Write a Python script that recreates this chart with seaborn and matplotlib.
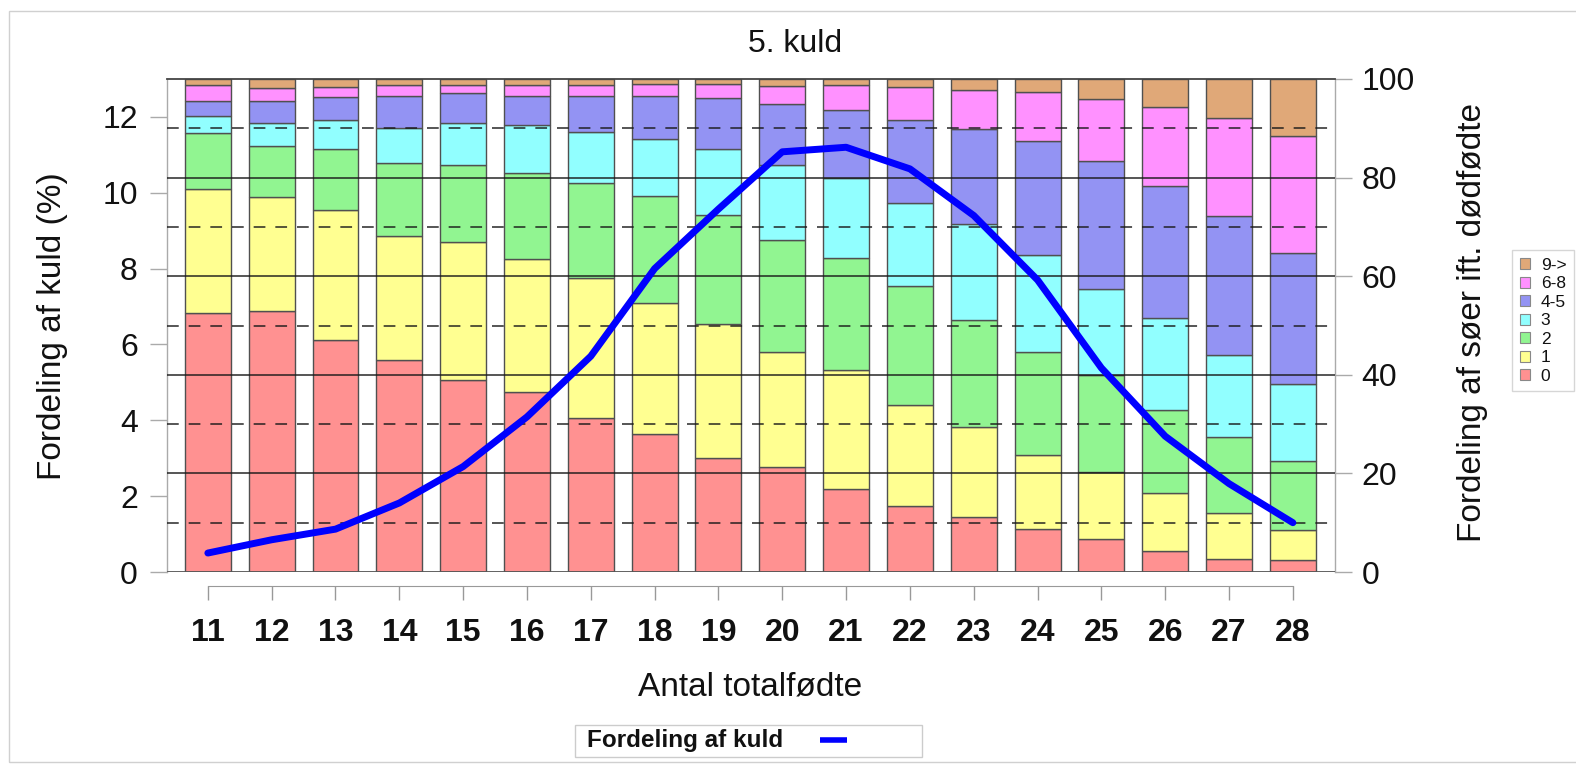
import numpy as np
import pandas as pd
import matplotlib
matplotlib.use("Agg")
import matplotlib.pyplot as plt
from matplotlib.patches import Patch, Rectangle
from matplotlib.lines import Line2D
import seaborn as sns

# ---------------- data ----------------
litter_sizes = [11, 12, 13, 14, 15, 16, 17, 18, 19, 20, 21, 22, 23, 24, 25, 26, 27, 28]
groups = ["9->", "6-8", "4-5", "3", "2", "1", "0"]   # legend order (top to bottom)

# share of sows (%) per stillborn group, per litter size
pct_0   = [52.6, 52.9, 47.1, 43.1, 38.9, 36.5, 31.2, 27.9, 23.2, 21.3, 16.8, 13.4, 11.1, 8.7, 6.7, 4.3, 2.6, 2.4]
pct_1   = [25.1, 23.2, 26.3, 25.1, 28.0, 26.9, 28.4, 26.7, 27.1, 23.3, 24.2, 20.5, 18.4, 15.1, 13.6, 11.7, 9.3, 6.1]
pct_2   = [11.3, 10.3, 12.4, 14.7, 15.7, 17.6, 19.4, 21.7, 22.1, 22.7, 22.6, 24.2, 21.6, 20.9, 19.7, 16.9, 15.5, 14.0]
pct_3   = [3.4, 4.6, 5.9, 7.1, 8.4, 9.7, 10.3, 11.5, 13.3, 15.2, 16.3, 16.7, 19.5, 19.5, 17.5, 18.6, 16.6, 15.6]
pct_4_5 = [3.1, 4.6, 4.6, 6.6, 6.1, 5.9, 7.3, 8.8, 10.5, 12.4, 13.8, 16.9, 19.2, 23.2, 25.9, 26.7, 28.3, 26.7]
pct_6_8 = [3.3, 2.5, 2.0, 2.1, 1.6, 2.1, 2.1, 2.4, 2.8, 3.7, 5.1, 6.6, 8.0, 9.9, 12.5, 16.2, 19.7, 23.7]
pct_9p  = [1.2, 1.9, 1.7, 1.3, 1.3, 1.3, 1.3, 1.0, 1.0, 1.4, 1.2, 1.7, 2.2, 2.7, 4.1, 5.6, 8.0, 11.5]

# distribution of litters (%) - line
litter_dist = [0.50, 0.85, 1.13, 1.82, 2.78, 4.09, 5.69, 8.00, 9.57, 11.08, 11.20, 10.63, 9.40, 7.70, 5.38, 3.58, 2.33, 1.30]

left_ticks = [0, 2, 4, 6, 8, 10, 12]
right_ticks = [0, 20, 40, 60, 80, 100]

colors = {"0": "#FF9191", "1": "#FFFF91", "2": "#91F591", "3": "#91FFFF",
          "4-5": "#9393F3", "6-8": "#FF91FF", "9->": "#E0A878"}

series = {"0": pct_0, "1": pct_1, "2": pct_2, "3": pct_3,
          "4-5": pct_4_5, "6-8": pct_6_8, "9->": pct_9p}

rows = []
for g, vals in series.items():
    for x, v in zip(litter_sizes, vals):
        rows.append({"x": x, "group": g, "pct": v})
df = pd.DataFrame(rows)
df_line = pd.DataFrame({"x": litter_sizes, "dist": litter_dist})

# ---------------- style ----------------
sns.set_style("white")
plt.rcParams["font.family"] = ["Liberation Sans", "DejaVu Sans"]
TXT = "#111111"
plt.rcParams["text.color"] = TXT
plt.rcParams["xtick.labelcolor"] = TXT
plt.rcParams["ytick.labelcolor"] = TXT

W, H = 1576, 768
fig = plt.figure(figsize=(W / 100, H / 100), dpi=100)
L, R, T, B = 167, 1335, 79, 572
ax = fig.add_axes([L / W, 1 - B / H, (R - L) / W, (B - T) / H])

# stacked bars (right axis, 0-100)
sns.histplot(data=df, x="x", weights="pct", hue="group", hue_order=groups,
             multiple="stack", discrete=True, shrink=0.72, palette=colors,
             alpha=1, edgecolor="#505050", linewidth=1.0, legend=False, ax=ax, zorder=2)

# grid lines over the bars
for v in [20, 40, 60, 80]:
    ax.axhline(v, color="#1a1a1a", lw=1.3, alpha=0.8, zorder=3)
for v in [10, 30, 50, 70, 90]:
    ax.axhline(v, color="#1a1a1a", lw=1.3, alpha=0.8, zorder=3, linestyle=(0, (6.5, 5.5)))
ax.axhline(0, color="#555555", lw=1.3, zorder=3)

# line (left axis, 0-13)
ax2 = ax.twinx()
sns.lineplot(data=df_line, x="x", y="dist", color="#0000FF", linewidth=5, ax=ax2, zorder=5)

# ---- axes set-up after plotting ----
for s in ["left", "right"]:
    ax.spines[s].set_color("#aaaaaa")
    ax.spines[s].set_linewidth(1.0)
ax.spines["top"].set_color("#444444")
ax.spines["top"].set_linewidth(1.3)
ax.spines["bottom"].set_position(("outward", 10))
ax.spines["bottom"].set_bounds(11, 28)
ax.spines["bottom"].set_color("#999999")
for s in ax2.spines.values():
    s.set_visible(False)

ax.set_ylim(0, 100)
ax.set_xlim(10.36, 28.66)
ax2.set_ylim(0, 13)

ax.yaxis.tick_right()
ax.yaxis.set_label_position("right")
ax2.yaxis.tick_left()
ax2.yaxis.set_label_position("left")

ax.set_yticks(right_ticks)
ax2.set_yticks(left_ticks)

ax.tick_params(axis="y", right=True, left=False, labelright=True, labelleft=False,
               length=12, width=1, color="#aaaaaa", pad=7, labelsize=23, labelcolor=TXT)
ax.tick_params(axis="x", bottom=True, length=10, width=1, color="#999999", pad=13,
               labelsize=23, labelcolor=TXT)
ax2.tick_params(axis="y", left=True, right=False, labelleft=True, labelright=False,
                length=12, width=1, color="#aaaaaa", pad=9, labelsize=23, labelcolor=TXT)
ax2.tick_params(axis="x", bottom=False, labelbottom=False)

ax.set_xticks(litter_sizes)
ax.set_xticklabels([str(v) for v in litter_sizes], fontweight="bold", fontsize=23, color=TXT)

for a in (ax, ax2):
    a.set_xlabel("")
    a.set_ylabel("")

# texts
fig.text(795 / W, 1 - 44 / H, "5. kuld", ha="center", va="center", fontsize=23, color=TXT)
fig.text(52 / W, 1 - 326 / H, "Fordeling af kuld (%)", rotation=90, ha="center", va="center",
         fontsize=24, color=TXT)
fig.text(1472 / W, 1 - 323 / H, "Fordeling af søer ift. dødfødte", rotation=90, ha="center",
         va="center", fontsize=24, color=TXT)
fig.text(750 / W, 1 - 687 / H, "Antal totalfødte", ha="center", va="center", fontsize=24, color=TXT)

# hue legend
handles = [Patch(facecolor=colors[g], edgecolor="#888888", linewidth=0.8, label=g) for g in groups]
leg = fig.legend(handles=handles, loc="upper left", bbox_to_anchor=(1512 / W, 1 - 250 / H),
                 fontsize=12.5, frameon=True, fancybox=False, edgecolor="#cccccc",
                 handlelength=0.6, handleheight=0.6, handletextpad=0.6, labelspacing=0.2,
                 borderpad=0.45, borderaxespad=0, labelcolor=TXT)
leg.get_frame().set_linewidth(1.0)

# bottom legend (manual)
fig.patches.append(Rectangle((575 / W, 1 - 757 / H), (922 - 575) / W, 32 / H,
                             transform=fig.transFigure, facecolor="white",
                             edgecolor="#cccccc", linewidth=1.0))
fig.text(587 / W, 1 - 741 / H, "Fordeling af kuld", ha="left", va="center",
         fontsize=17.5, fontweight="bold", color=TXT)
fig.lines.append(Line2D([820 / W, 847 / W], [1 - 740 / H, 1 - 740 / H], transform=fig.transFigure,
                        color="#0000FF", linewidth=4, solid_capstyle="butt"))

# outer frame
fig.patches.append(Rectangle((9 / W, 1 - 762 / H), (1600 - 9) / W, (762 - 11) / H,
                             transform=fig.transFigure, facecolor="none",
                             edgecolor="#d0d0d0", linewidth=1.0))

fig.savefig("out.png", dpi=100)
